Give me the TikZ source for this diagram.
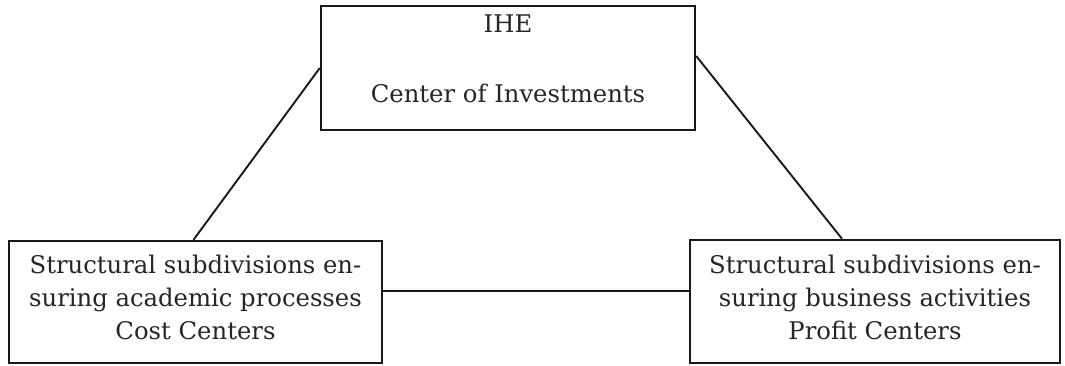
\documentclass[tikz,border=0pt]{standalone}
\usepackage{fontspec}
\setmainfont{DejaVu Serif}
\usetikzlibrary{positioning,calc}
\tikzset{
  box/.style={draw=black!90, line width=2.4pt, inner sep=0pt},
  txt/.style={align=center, anchor=base, inner sep=0pt,
    font=\fontsize{24.3}{33}\selectfont, text=black!85},
  link/.style={draw=black!90, line width=1.9pt}
}
\begin{document}
\begin{tikzpicture}[x=1pt,y=-1pt]
\useasboundingbox (0,0) rectangle (1065,365);
\def\lift{11pt};

% the three boxes %
\node[box, minimum width=374pt, minimum height=124pt] (ihe) at (508,68) {};
\node[box, minimum width=373pt, minimum height=122pt] (cost) at (195.5,302) {};
\node[box, minimum width=370pt, minimum height=123pt] (profit) at (875,301.5) {};

% texts, placed by their last baseline %
\node[txt] (iheText) at (508,102) {IHE\\[37pt]Center of Investments};
\node[txt] (costText) at (195.5,339) {Structural subdivisions en-\\suring academic processes\\Cost Centers};
\node[txt] (profitText) at (875,339) {Structural subdivisions en-\\suring business activities\\Profit Centers};

% connectors %
\draw[link] (ihe.west) -- ([xshift=-2pt]cost.north);
\draw[link] ([yshift=12pt]ihe.east) -- ([xshift=-33pt]profit.north);
\draw[link] ([yshift=\lift]cost.east) -- ([yshift=\lift]cost.east -| profit.west);
\end{tikzpicture}
\end{document}
